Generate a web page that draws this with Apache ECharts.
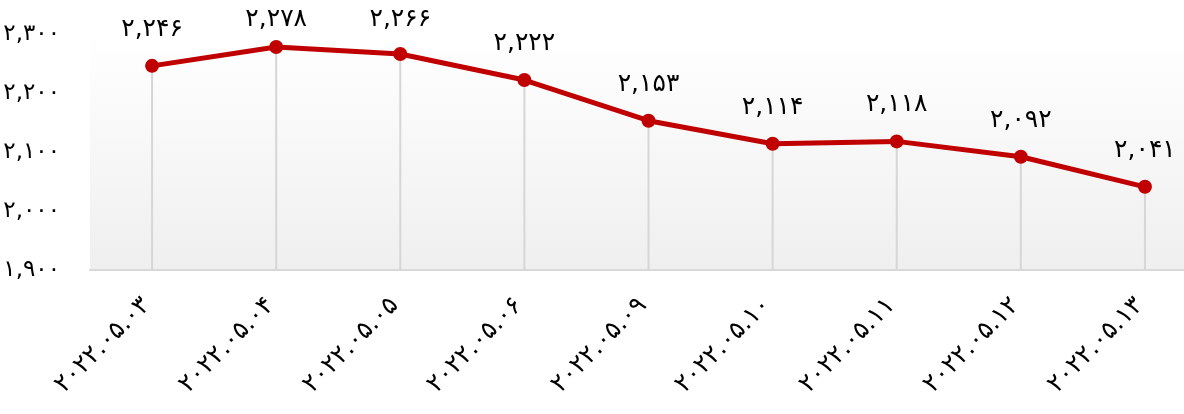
<!DOCTYPE html>
<html><head><meta charset="utf-8">
<script src="https://cdn.jsdelivr.net/npm/echarts@6/dist/echarts.min.js"></script>
<style>html,body{margin:0;padding:0;background:#fff}#c{width:1184px;height:414px}</style>
</head><body><div id="c"></div>
<script>
const categories = ['۲۰۲۲.۰۵.۰۳','۲۰۲۲.۰۵.۰۴','۲۰۲۲.۰۵.۰۵','۲۰۲۲.۰۵.۰۶','۲۰۲۲.۰۵.۰۹','۲۰۲۲.۰۵.۱۰','۲۰۲۲.۰۵.۱۱','۲۰۲۲.۰۵.۱۲','۲۰۲۲.۰۵.۱۳'];
const values = [2246, 2278, 2266, 2222, 2153, 2114, 2118, 2092, 2041];
const yMin = 1900, yMax = 2300, yStep = 100;

const fa = '۰۱۲۳۴۵۶۷۸۹';
function toFa(n){
  const s = Math.round(n).toString().replace(/\B(?=(\d{3})+(?!\d))/g, ',');
  return s.replace(/\d/g, d => fa[+d]);
}
const FONT = 'DejaVu Sans';
const chart = echarts.init(document.getElementById('c'));
chart.setOption({
  animation: false,
  grid: {
    left: 90, width: 1117, top: 34, height: 236,
    outerBoundsMode: 'none', containLabel: false,
    show: true, borderWidth: 0,
    backgroundColor: new echarts.graphic.LinearGradient(0, 0, 0, 1, [
      {offset: 0, color: '#ffffff'}, {offset: 1, color: '#efefef'}
    ])
  },
  xAxis: {
    type: 'category', data: categories, boundaryGap: true,
    axisLine: {show: true, lineStyle: {color: '#d9d9d9', width: 2}},
    axisTick: {show: false},
    axisLabel: {rotate: 45, margin: 26, padding: [0, 8, 0, 0], color: '#000', fontFamily: FONT, fontSize: 25, interval: 0},
    splitLine: {show: false}
  },
  yAxis: {
    type: 'value', min: yMin, max: yMax, interval: yStep,
    axisLine: {show: false}, axisTick: {show: false},
    splitLine: {show: false},
    axisLabel: {margin: 30, color: '#000', fontFamily: FONT, fontSize: 23, padding: [0,0,10,0],
      formatter: v => toFa(v)}
  },
  series: [
    {
      type: 'bar', data: values, barWidth: 2, silent: true,
      itemStyle: {color: '#d6d6d6'}, z: 1
    },
    {
      type: 'line', data: values, z: 3,
      lineStyle: {color: '#c00000', width: 5},
      itemStyle: {color: '#c00000'},
      symbol: 'circle', symbolSize: 14,
      label: {show: true, position: 'top', distance: 17, color: '#000', fontFamily: FONT, fontSize: 25,
        formatter: p => toFa(p.value)},
      labelLayout: function (p) {
        const r = p.labelRect;
        return {x: r.x + r.width / 2, y: Math.max(r.y, 7), align: 'center', verticalAlign: 'top'};
      }
    }
  ]
});
</script></body></html>
